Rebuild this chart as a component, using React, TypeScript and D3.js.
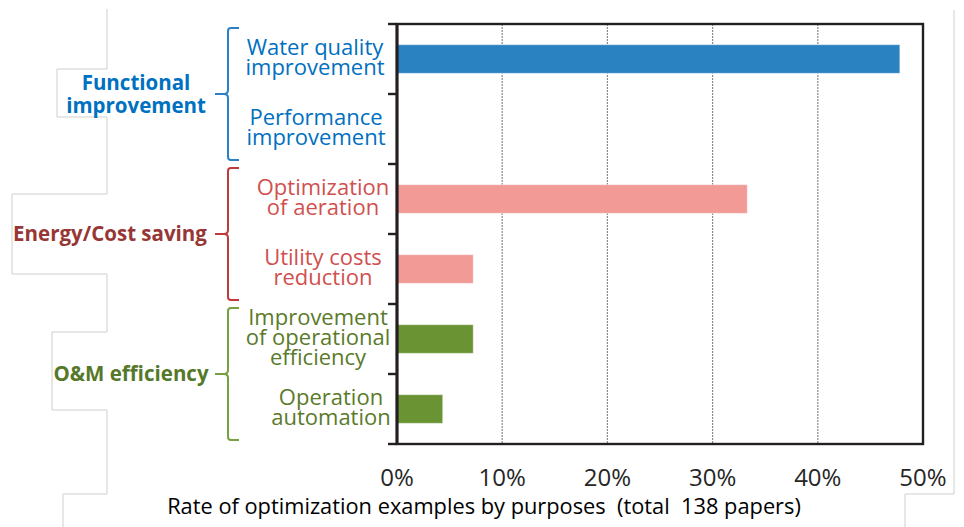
import React, { useEffect, useRef } from 'react';
import * as d3 from 'd3';

// rows, top to bottom
const categories = [
  'Water quality improvement',
  'Performance improvement',
  'Optimization of aeration',
  'Utility costs reduction',
  'Improvement of operational efficiency',
  'Operation automation',
];
const categoryLines = [
  ['Water quality', 'improvement'],
  ['Performance', 'improvement'],
  ['Optimization', 'of aeration'],
  ['Utility costs', 'reduction'],
  ['Improvement', 'of operational', 'efficiency'],
  ['Operation', 'automation'],
];
// share of the 138 papers
const rates = [0.478, 0, 0.333, 0.0725, 0.0725, 0.0435];
const categoryGroup = [0, 0, 1, 1, 2, 2];

const groupNames = [['Functional', 'improvement'], ['Energy/Cost saving'], ['O&M efficiency']];
const groupFirst = [0, 2, 4];
const groupLast = [1, 3, 5];

const xTicks = [0, 0.1, 0.2, 0.3, 0.4, 0.5];
const xTitle = 'Rate of optimization examples by purposes  (total  138 papers)';

const barColors = ['#2b82c1', '#f19a96', '#6a9433'];
const labelColors = ['#0070c0', '#d0504f', '#5a7a2a'];
const groupColors = ['#0070c0', '#973735', '#56782a'];
const braceColors = ['#2e80c4', '#c0393b', '#77a040'];

const W = 964;
const H = 527;
const font = '"Open Sans", Lato, sans-serif';

const App = () => {
  const ref = useRef(null);

  useEffect(() => {
    const svg = d3.select(ref.current);
    svg.selectAll('*').remove();

    const x = d3.scaleLinear().domain([0, 0.5]).range([397, 923]);
    const y = d3
      .scaleBand()
      .domain(categories)
      .range([24, 444])
      .paddingInner(0.59)
      .paddingOuter(0.295);
    const step = y.step();
    const bandTop = (i) => y(categories[i]) - (step - y.bandwidth()) / 2;

    // leftover outline of the slide's text boxes
    const deco = d3.line();
    svg.append('path')
      .attr('d', deco([[107, 9], [107, 69], [57, 69], [57, 117], [107, 117], [107, 194], [12, 194], [12, 274], [107, 274], [107, 332], [52, 332], [52, 410], [107, 410], [107, 494], [63, 494], [63, 527]]))
      .attr('fill', 'none').attr('stroke', '#cfcfcf').attr('stroke-width', 1);
    svg.append('path')
      .attr('d', deco([[954, 10], [954, 494], [905, 494], [905, 527]]))
      .attr('fill', 'none').attr('stroke', '#cfcfcf').attr('stroke-width', 1);

    // grid
    svg.selectAll('.grid')
      .data(xTicks.slice(1, -1))
      .enter()
      .append('line')
      .attr('x1', d => x(d)).attr('x2', d => x(d))
      .attr('y1', 24).attr('y2', 444)
      .attr('stroke', '#8a8a8a')
      .attr('stroke-width', 1.2)
      .attr('stroke-dasharray', '2,1');

    // bars
    svg.selectAll('.bar')
      .data(categories)
      .enter()
      .append('rect')
      .attr('x', x(0))
      .attr('y', d => y(d))
      .attr('width', (d, i) => x(rates[i]) - x(0))
      .attr('height', y.bandwidth())
      .attr('fill', (d, i) => barColors[categoryGroup[i]])
      .attr('stroke', (d, i) => (rates[i] > 0 ? '#ffffff' : 'none'))
      .attr('stroke-opacity', 0.5)
      .attr('stroke-width', 1);

    // frame
    svg.append('rect')
      .attr('x', 397).attr('y', 24).attr('width', 526).attr('height', 420)
      .attr('fill', 'none').attr('stroke', '#231f20').attr('stroke-width', 2.4);
    svg.append('line')
      .attr('x1', 397).attr('x2', 397).attr('y1', 24).attr('y2', 444)
      .attr('stroke', '#231f20').attr('stroke-width', 3);

    // category boundary ticks
    const bounds = categories.map((c, i) => bandTop(i)).concat([444]);
    svg.selectAll('.ytick')
      .data(bounds)
      .enter()
      .append('line')
      .attr('x1', 388).attr('x2', 397)
      .attr('y1', d => d).attr('y2', d => d)
      .attr('stroke', '#231f20').attr('stroke-width', 2.4);

    // x tick labels
    svg.selectAll('.xlabel')
      .data(xTicks)
      .enter()
      .append('text')
      .attr('x', d => x(d))
      .attr('y', 486)
      .attr('text-anchor', 'middle')
      .attr('font-family', font)
      .attr('font-size', 24)
      .attr('fill', '#262626')
      .text(d => d3.format('.0%')(d));

    svg.append('text')
      .attr('x', 484).attr('y', 514)
      .attr('text-anchor', 'middle')
      .attr('font-family', font)
      .attr('font-size', 21.8)
      .attr('fill', '#000')
      .style('white-space', 'pre')
      .text(xTitle);

    // category labels
    const labelCx = [315, 316, 323, 323, 318, 331];
    categories.forEach((c, i) => {
      const lines = categoryLines[i];
      const mid = y(c) + y.bandwidth() / 2 + 6;
      const t = svg.append('text')
        .attr('text-anchor', 'middle')
        .attr('font-family', font)
        .attr('font-size', 22)
        .attr('fill', labelColors[categoryGroup[i]]);
      lines.forEach((ln, k) => {
        t.append('tspan')
          .attr('x', labelCx[i])
          .attr('y', mid + (k - (lines.length - 1) / 2) * 20)
          .text(ln);
      });
    });

    // braces and group labels
    const groupCx = [136, 110, 131];
    groupNames.forEach((g, gi) => {
      const top = bandTop(groupFirst[gi]) + 4;
      const bot = bandTop(groupLast[gi]) + step - 4;
      const mid = (top + bot) / 2;
      const p = d3.path();
      p.moveTo(239, top);
      p.lineTo(231, top);
      p.quadraticCurveTo(228, top, 228, top + 3);
      p.lineTo(228, mid - 4);
      p.quadraticCurveTo(228, mid, 224, mid);
      p.lineTo(215, mid);
      p.moveTo(224, mid);
      p.quadraticCurveTo(228, mid, 228, mid + 4);
      p.lineTo(228, bot - 3);
      p.quadraticCurveTo(228, bot, 231, bot);
      p.lineTo(239, bot);
      svg.append('path')
        .attr('d', p.toString())
        .attr('fill', 'none')
        .attr('stroke', braceColors[gi])
        .attr('stroke-width', 2);

      const t = svg.append('text')
        .attr('text-anchor', 'middle')
        .attr('font-family', font)
        .attr('font-weight', 'bold')
        .attr('font-size', 20.5)
        .attr('fill', groupColors[gi]);
      g.forEach((ln, k) => {
        t.append('tspan')
          .attr('x', groupCx[gi])
          .attr('y', mid + 7 + (k - (g.length - 1) / 2) * 23)
          .text(ln);
      });
    });
  }, []);

  return (
    <svg
      ref={ref}
      width={W}
      height={H}
      style={{ position: 'absolute', left: 0, top: 0, background: '#fff' }}
    ></svg>
  );
};

export default App;
